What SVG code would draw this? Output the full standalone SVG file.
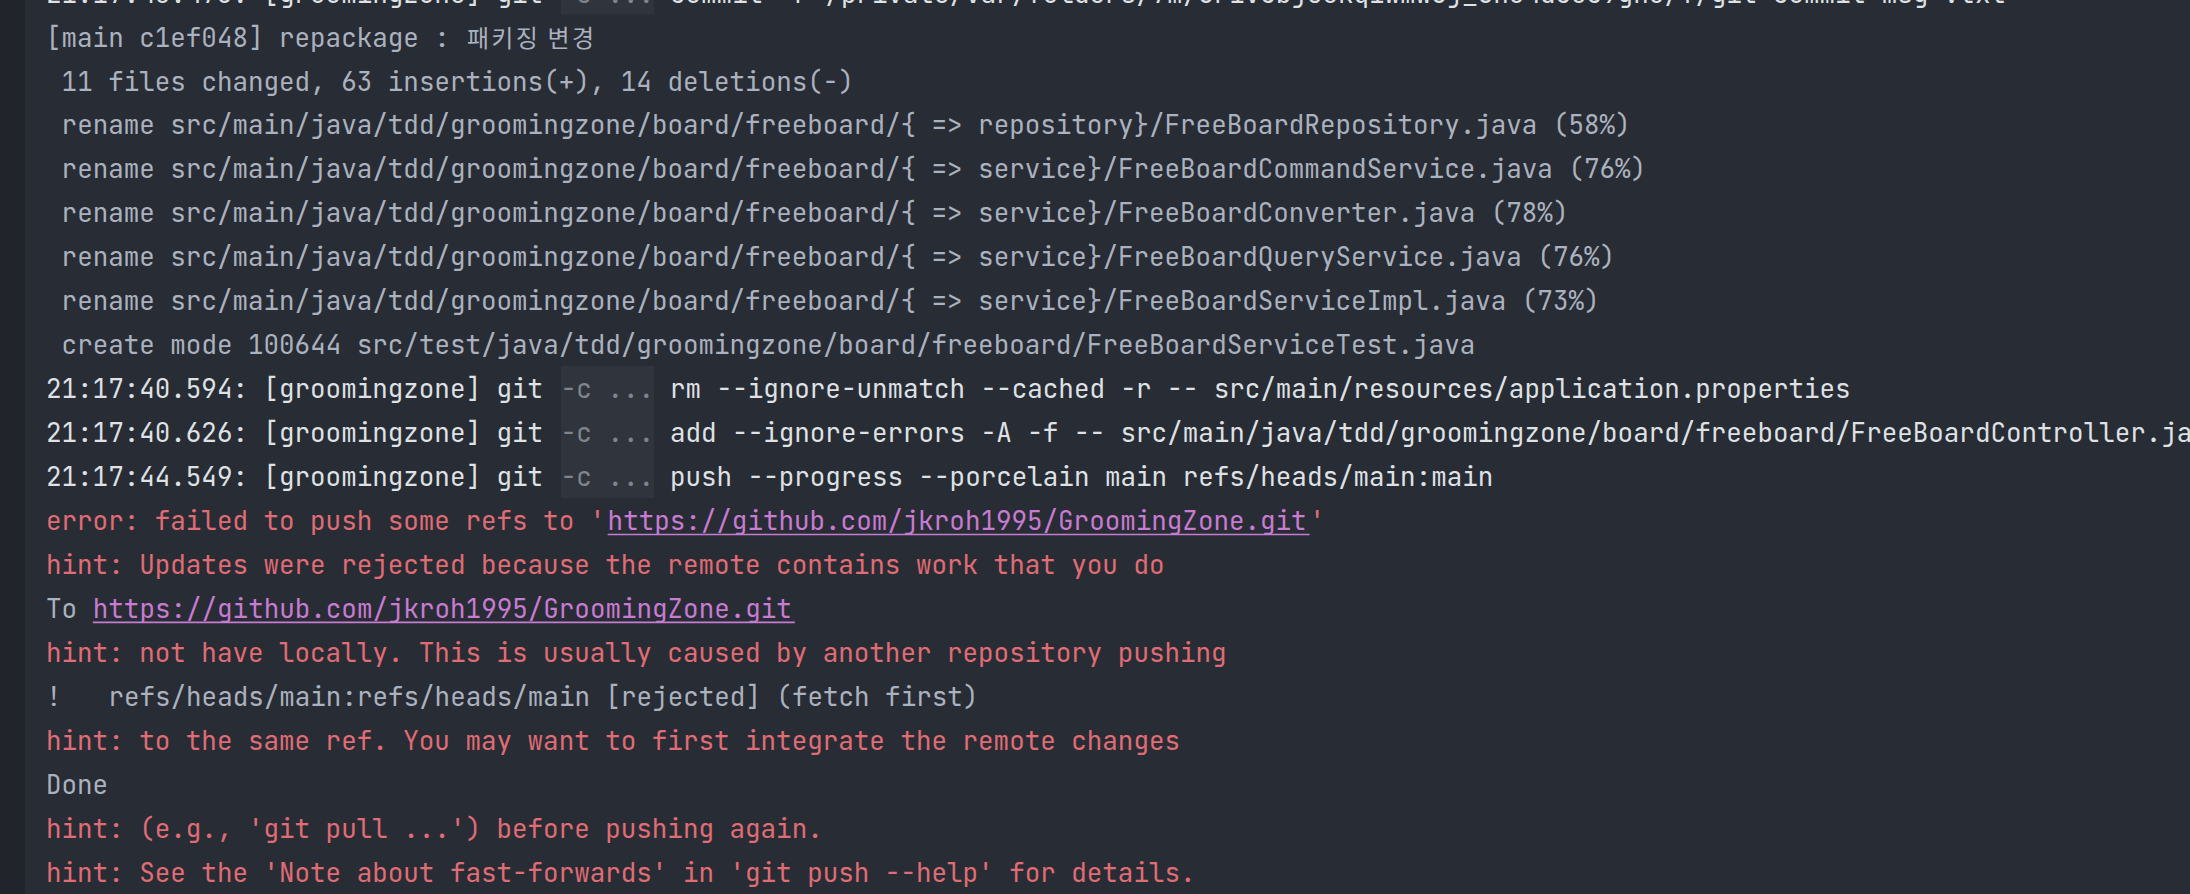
<svg xmlns="http://www.w3.org/2000/svg" width="2190" height="894" viewBox="0 0 2190 894">
<style>
text{font-family:"JetBrains Mono","DejaVu Sans Mono","Liberation Mono",monospace;font-size:25.9px;font-variant-ligatures:none;font-feature-settings:"calt" 0,"liga" 0}
.g{fill:#abb2bf}
.w{fill:#dfe1e5}
.d{fill:#7f848e}
.r{fill:#e06c75}
.l{fill:#c87bd2}
.ko{font-family:"Noto Sans CJK KR","Noto Sans",sans-serif;font-size:24px;fill:#abb2bf}
.ul{stroke:#c87bd2;stroke-width:1.6}
</style>
<rect x="0" y="0" width="2190" height="894" fill="#282c34"/>
<rect x="0" y="0" width="25" height="894" fill="#21252b"/>
<g id="cmd-boxes" fill="#30343d">
<rect x="561" y="0" width="93" height="14.6"/>
<rect x="561" y="366" width="93" height="132"/>
</g>
<g id="console">
<text y="2.6"><tspan x="46" class="w">21:17:40.473: [groomingzone] git</tspan><tspan x="560.8" class="d">-c ...</tspan><tspan x="670" class="w">commit -F /private/var/folders/7m/6r1vcbj50kq1wmw6j_6h04dc0c9gn0/T/git-commit-msg-.txt</tspan></text>
<text y="46.55" x="46" class="g">[main c1ef048] repackage :</text>
<text y="46.55" x="467" class="ko" textLength="127" lengthAdjust="spacing">패키징 변경</text>
<text y="90.5" x="61.6" class="g">11 files changed, 63 insertions(+), 14 deletions(-)</text>
<text y="134.45" x="61.6" class="g">rename src/main/java/tdd/groomingzone/board/freeboard/{ =&gt; repository}/FreeBoardRepository.java (58%)</text>
<text y="178.4" x="61.6" class="g">rename src/main/java/tdd/groomingzone/board/freeboard/{ =&gt; service}/FreeBoardCommandService.java (76%)</text>
<text y="222.35" x="61.6" class="g">rename src/main/java/tdd/groomingzone/board/freeboard/{ =&gt; service}/FreeBoardConverter.java (78%)</text>
<text y="266.3" x="61.6" class="g">rename src/main/java/tdd/groomingzone/board/freeboard/{ =&gt; service}/FreeBoardQueryService.java (76%)</text>
<text y="310.25" x="61.6" class="g">rename src/main/java/tdd/groomingzone/board/freeboard/{ =&gt; service}/FreeBoardServiceImpl.java (73%)</text>
<text y="354.2" x="61.6" class="g">create mode 100644 src/test/java/tdd/groomingzone/board/freeboard/FreeBoardServiceTest.java</text>
<text y="398.15"><tspan x="46" class="w">21:17:40.594: [groomingzone] git</tspan><tspan x="560.8" class="d">-c ...</tspan><tspan x="670" class="w">rm --ignore-unmatch --cached -r -- src/main/resources/application.properties</tspan></text>
<text y="442.1"><tspan x="46" class="w">21:17:40.626: [groomingzone] git</tspan><tspan x="560.8" class="d">-c ...</tspan><tspan x="670" class="w">add --ignore-errors -A -f -- src/main/java/tdd/groomingzone/board/freeboard/FreeBoardController.java</tspan></text>
<text y="486.05"><tspan x="46" class="w">21:17:44.549: [groomingzone] git</tspan><tspan x="560.8" class="d">-c ...</tspan><tspan x="670" class="w">push --progress --porcelain main refs/heads/main:main</tspan></text>
<text y="530"><tspan x="46" class="r">error: failed to push some refs to '</tspan><tspan x="607.6" class="l">https://github.com/jkroh1995/GroomingZone.git</tspan><tspan x="1309.6" class="r">'</tspan></text>
<text y="573.95" x="46" class="r">hint: Updates were rejected because the remote contains work that you do</text>
<text y="617.9"><tspan x="46" class="g">To</tspan><tspan x="92.8" class="l">https://github.com/jkroh1995/GroomingZone.git</tspan></text>
<text y="661.85" x="46" class="r">hint: not have locally. This is usually caused by another repository pushing</text>
<text y="705.8"><tspan x="46" class="g">!</tspan><tspan x="108.4" class="g">refs/heads/main:refs/heads/main [rejected] (fetch first)</tspan></text>
<text y="749.75" x="46" class="r">hint: to the same ref. You may want to first integrate the remote changes</text>
<text y="793.7" x="46" class="g">Done</text>
<text y="837.65" x="46" class="r">hint: (e.g., 'git pull ...') before pushing again.</text>
<text y="881.6" x="46" class="r">hint: See the 'Note about fast-forwards' in 'git push --help' for details.</text>
</g>
<g id="link-underlines">
<line class="ul" x1="607.6" y1="534.5" x2="1309.6" y2="534.5"/>
<line class="ul" x1="92.8" y1="622.4" x2="794.8" y2="622.4"/>
</g>
</svg>
